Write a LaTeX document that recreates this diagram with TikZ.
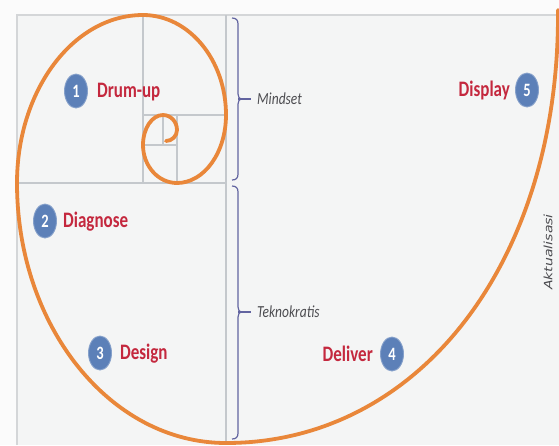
\documentclass[tikz,border=0pt]{standalone}
\usepackage{fontspec}
\setmainfont{Carlito}
\newfontfamily\akfont{DejaVu Sans}
\usetikzlibrary{shapes.geometric}
\definecolor{spiralc}{RGB}{233,135,58}
\definecolor{numblue}{RGB}{92,128,184}
\definecolor{labred}{RGB}{196,40,62}
\definecolor{gridc}{RGB}{196,200,204}
\definecolor{framec}{RGB}{212,214,216}
\definecolor{bracec}{RGB}{98,100,160}
\definecolor{greytxt}{RGB}{76,76,80}
\definecolor{bgout}{RGB}{251,251,251}
\definecolor{bgin}{RGB}{244,245,245}
\tikzset{
  numc/.style={ellipse, fill=numblue, draw=numblue!75!white, line width=0.9pt, minimum width=23pt, minimum height=34pt, inner sep=0pt, text=white, font=\bfseries\fontsize{14.5}{14.5}\selectfont},
  lab/.style={text=labred, font=\bfseries\fontsize{17}{17}\selectfont, inner sep=0pt},
  side/.style={text=greytxt, font=\itshape\fontsize{13.5}{13.5}\selectfont, inner sep=0pt},
  gridline/.style={draw=gridc, line width=1.1pt},
  spiralline/.style={draw=spiralc, line width=3.8pt, line cap=round},
  bracel/.style={draw=bracec, line width=1.2pt},
}
\begin{document}
\begin{tikzpicture}[x=1pt,y=-1pt]
\useasboundingbox (0,0) rectangle (559,445);
\fill[bgout] (0,0) rectangle (559,445);
\fill[bgin] (17,15) rectangle (559,445);
% frame
\draw[draw=framec, line width=2pt] (17,445) -- (17,15) -- (559,15);
% grid
\draw[gridline] (226,15) -- (226,445);
\draw[gridline] (17,183) -- (226,183);
\draw[gridline] (143,15) -- (143,183);
\draw[gridline] (143,115) -- (226,115);
\draw[gridline] (177,115) -- (177,183);
\draw[gridline] (143,145) -- (177,145);
\draw[gridline] (163,115) -- (163,145);
% spiral
\draw[spiralline] (558,10) -- (558,15)
  .. controls (558,263) and (418.6,443) .. (226,443)
  .. controls (110.6,443) and (17,326.6) .. (17,183)
  .. controls (17,90.2) and (73.4,15) .. (143,15)
  .. controls (188.8,15) and (226,59.8) .. (226,115)
  .. controls (226,152.6) and (204.1,183) .. (177,183)
  .. controls (158.2,183) and (143,166) .. (143,145)
  .. controls (143,128.4) and (152,115) .. (163,115)
  .. controls (170.7,115) and (177,121.7) .. (177,130)
  .. controls (177,136) and (172,141) .. (166,141);
% braces
\draw[bracel] (232,18) .. controls (236,18) and (238,20) .. (238,24) -- (238,94)
  .. controls (238,97) and (239,99) .. (243,99)
  .. controls (239,99) and (238,101) .. (238,104) -- (238,174)
  .. controls (238,178) and (236,180) .. (232,180);
\draw[bracel] (238,99) -- (251,99);
\draw[bracel] (232,186) .. controls (236,186) and (238,188) .. (238,192) -- (238,307)
  .. controls (238,310) and (239,312) .. (243,312)
  .. controls (239,312) and (238,314) .. (238,317) -- (238,433)
  .. controls (238,437) and (236,439) .. (232,439);
\draw[bracel] (238,312) -- (251,312);
\node[side, anchor=west] (mind) at (257,99) {\scalebox{1}[1.25]{Mindset}};
\node[side, anchor=west] (tekno) at (257,312) {\scalebox{1}[1.25]{Teknokratis}};
\node[text=greytxt, inner sep=0pt, rotate=90, font=\akfont\itshape\fontsize{11.5}{11.5}\selectfont] (akt) at (548,252) {\scalebox{1.22}[1]{Aktualisasi}};
% numbered steps
\node[numc] (c1) at (76,91) {\scalebox{1}[1.3]{1}};
\node[lab, anchor=west] (l1) at (97,92) {\scalebox{1}[1.3]{Drum-up}};
\node[numc] (c2) at (45,221) {\scalebox{1}[1.3]{2}};
\node[lab, anchor=west] (l2) at (63,222) {\scalebox{1}[1.3]{Diagnose}};
\node[numc] (c3) at (100,353) {\scalebox{1}[1.3]{3}};
\node[lab, anchor=west] (l3) at (120,354) {\scalebox{1}[1.3]{Design}};
\node[numc] (c4) at (392,354) {\scalebox{1}[1.3]{4}};
\node[lab, anchor=east] (l4) at (373,354) {\scalebox{1}[1.3]{Deliver}};
\node[numc] (c5) at (527,90) {\scalebox{1}[1.3]{5}};
\node[lab, anchor=east] (l5) at (510,90) {\scalebox{1}[1.3]{Display}};
\end{tikzpicture}
\end{document}
